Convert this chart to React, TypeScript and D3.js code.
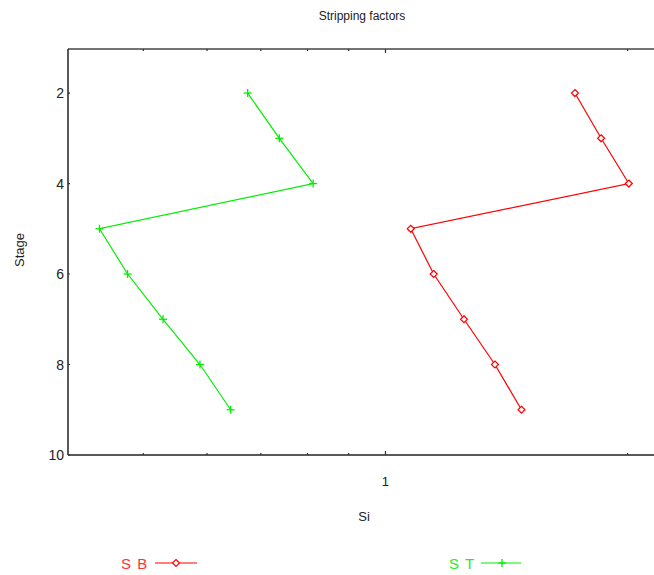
import React from "react";
import * as d3 from "d3";

const stages = [2, 3, 4, 5, 6, 7, 8, 9];
const sbValues = [1.72, 1.854, 2.007, 1.075, 1.148, 1.252, 1.368, 1.476];
const stValues = [0.674, 0.738, 0.813, 0.441, 0.478, 0.529, 0.588, 0.642];
const xMinorTicks = [0.5, 0.6, 0.7, 0.8, 0.9, 2];
const xMajorTicks = [1];
const yTicks = [2, 4, 6, 8, 10];

const W = 654;
const H = 575;
const left = 68;
const right = 654;
const top = 49;
const bottom = 455;

export default function App() {
  const x = d3.scaleLog().domain([0.403, 2.157]).range([left, right]);
  const y = d3.scaleLinear().domain([1, 10]).range([47.8, bottom]);

  const line = d3
    .line<number>()
    .x((d) => x(d))
    .y((_, i) => y(stages[i]));

  const font = "'Liberation Sans', Arial, sans-serif";
  const red = "#ff0000";
  const green = "#00ee00";

  const plus = (cx: number, cy: number, key: string, c: string) => (
    <g key={key} stroke={c} strokeWidth={1.3}>
      <line x1={cx - 4} x2={cx + 4} y1={cy} y2={cy} />
      <line x1={cx} x2={cx} y1={cy - 4} y2={cy + 4} />
    </g>
  );
  const diamond = (cx: number, cy: number, key: string, c: string) => (
    <path
      key={key}
      d={`M${cx},${cy - 3.5}L${cx + 3.5},${cy}L${cx},${cy + 3.5}L${cx - 3.5},${cy}Z`}
      fill="white"
      stroke={c}
      strokeWidth={1.2}
    />
  );

  return (
    <div style={{ position: "absolute", left: 0, top: 0 }}>
      <svg width={W} height={H} style={{ display: "block" }}>
        <rect width={W} height={H} fill="white" />
        <text x={362} y={20} textAnchor="middle" fontFamily={font} fontSize={12} fill="#222">
          Stripping factors
        </text>
        {/* frame */}
        <line x1={left} x2={right} y1={top} y2={top} stroke="#444" strokeWidth={1.5} />
        <line x1={left} x2={right} y1={bottom} y2={bottom} stroke="#222" strokeWidth={1.5} />
        <line x1={left} x2={left} y1={top} y2={bottom} stroke="#222" strokeWidth={1.5} />
        {/* x ticks */}
        {xMinorTicks.map((t) => (
          <g key={"xm" + t} stroke="#333" strokeWidth={1.2}>
            <line x1={x(t)} x2={x(t)} y1={bottom} y2={bottom - 2} />
            <line x1={x(t)} x2={x(t)} y1={top} y2={top + 2} />
          </g>
        ))}
        {xMajorTicks.map((t) => (
          <g key={"xM" + t}>
            <line x1={x(t)} x2={x(t)} y1={bottom} y2={bottom - 4} stroke="#333" strokeWidth={1.2} />
            <line x1={x(t)} x2={x(t)} y1={top} y2={top + 4} stroke="#333" strokeWidth={1.2} />
            <text x={x(t)} y={bottom + 31} textAnchor="middle" fontFamily={font} fontSize={13} fill="#222">
              {t}
            </text>
          </g>
        ))}
        {/* y ticks */}
        {yTicks.map((t) => (
          <g key={"y" + t}>
            <line x1={left} x2={left + 2} y1={y(t)} y2={y(t)} stroke="#333" strokeWidth={1.2} />
            <text x={left - 4} y={y(t) + 5} textAnchor="end" fontFamily={font} fontSize={14} fill="#222">
              {t}
            </text>
          </g>
        ))}
        <text
          transform={`translate(24,250) rotate(-90)`}
          textAnchor="middle"
          fontFamily={font}
          fontSize={13}
          fill="#222"
        >
          Stage
        </text>
        <text x={364} y={521} textAnchor="middle" fontFamily={font} fontSize={13} fill="#222">
          Si
        </text>
        {/* series */}
        <path d={line(stValues) || ""} fill="none" stroke={green} strokeWidth={1.2} />
        {stValues.map((v, i) => plus(x(v), y(stages[i]), "p" + i, green))}
        <path d={line(sbValues) || ""} fill="none" stroke={red} strokeWidth={1.2} />
        {sbValues.map((v, i) => diamond(x(v), y(stages[i]), "d" + i, red))}
        {/* legend */}
        <text x={121} y={569} fontFamily={font} fontSize={15} fill="#ff3333" letterSpacing={1}>
          S B
        </text>
        <line x1={155} x2={197} y1={563} y2={563} stroke={red} strokeWidth={1.2} />
        {diamond(176, 563, "ld", red)}
        <text x={449} y={569} fontFamily={font} fontSize={15} fill="#22ee22" letterSpacing={1}>
          S T
        </text>
        <line x1={481} x2={521} y1={563} y2={563} stroke={green} strokeWidth={1.2} />
        {plus(502, 563, "lp", green)}
      </svg>
    </div>
  );
}
